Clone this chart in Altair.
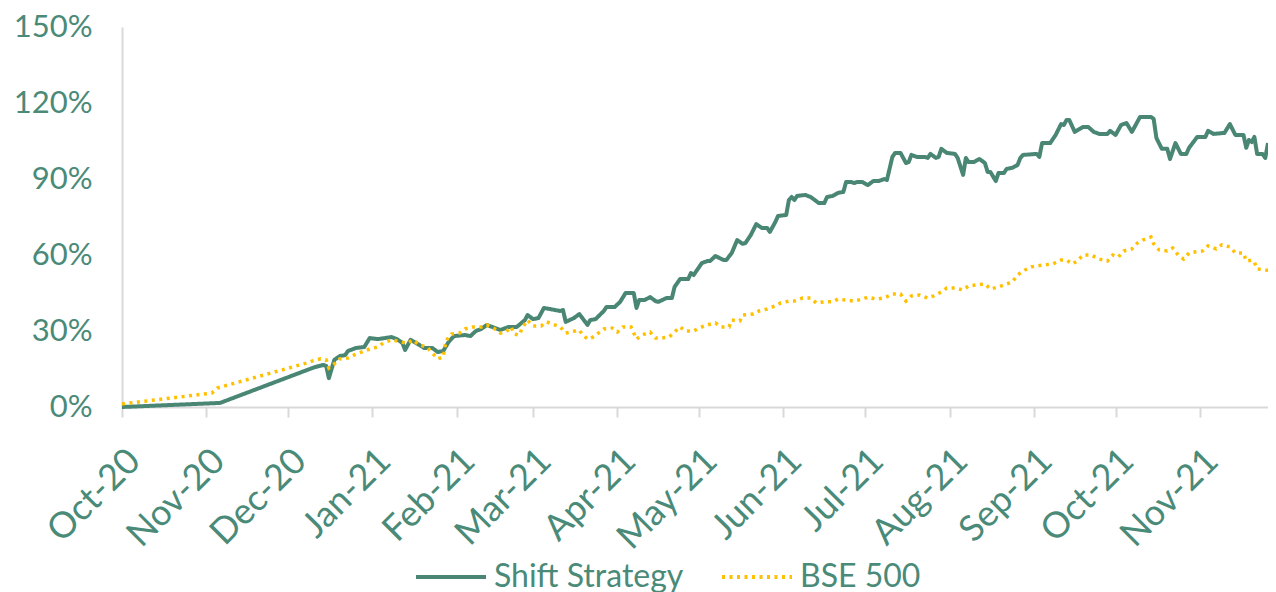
import altair as alt
import pandas as pd

series_names = ["Shift Strategy", "BSE 500"]
series_colors = ["#4a8674", "#ffc000"]
y_ticks = [0, 30, 60, 90, 120, 150]

shift_dates = [
    "2020-10-01", "2020-11-06", "2020-12-07", "2020-12-09", "2020-12-11", "2020-12-14", "2020-12-15",
    "2020-12-16", "2020-12-18", "2020-12-20", "2020-12-22", "2020-12-23", "2020-12-26", "2020-12-29",
    "2020-12-31", "2021-01-03", "2021-01-08", "2021-01-10", "2021-01-12", "2021-01-13", "2021-01-15",
    "2021-01-17", "2021-01-20", "2021-01-23", "2021-01-25", "2021-01-27", "2021-01-29", "2021-01-31",
    "2021-02-04", "2021-02-06", "2021-02-08", "2021-02-10", "2021-02-12", "2021-02-14", "2021-02-17",
    "2021-02-20", "2021-02-23", "2021-02-26", "2021-02-27", "2021-03-01", "2021-03-03", "2021-03-05",
    "2021-03-09", "2021-03-11", "2021-03-12", "2021-03-13", "2021-03-16", "2021-03-18", "2021-03-21",
    "2021-03-22", "2021-03-24", "2021-03-27", "2021-03-28", "2021-03-31", "2021-04-02", "2021-04-04",
    "2021-04-07", "2021-04-08", "2021-04-09", "2021-04-11", "2021-04-13", "2021-04-15", "2021-04-16",
    "2021-04-19", "2021-04-21", "2021-04-22", "2021-04-24", "2021-04-27", "2021-04-28", "2021-04-29",
    "2021-05-02", "2021-05-04", "2021-05-05", "2021-05-07", "2021-05-10", "2021-05-11", "2021-05-13",
    "2021-05-15", "2021-05-17", "2021-05-18", "2021-05-20", "2021-05-22", "2021-05-24", "2021-05-26",
    "2021-05-27", "2021-05-29", "2021-05-30", "2021-06-02", "2021-06-03", "2021-06-04", "2021-06-05",
    "2021-06-06", "2021-06-09", "2021-06-11", "2021-06-14", "2021-06-16", "2021-06-17", "2021-06-19",
    "2021-06-21", "2021-06-23", "2021-06-24", "2021-06-26", "2021-06-27", "2021-06-28", "2021-06-30",
    "2021-07-02", "2021-07-04", "2021-07-06", "2021-07-08", "2021-07-09", "2021-07-11", "2021-07-12",
    "2021-07-14", "2021-07-16", "2021-07-17", "2021-07-18", "2021-07-20", "2021-07-23", "2021-07-24",
    "2021-07-25", "2021-07-27", "2021-07-28", "2021-07-29", "2021-07-31", "2021-08-03", "2021-08-04",
    "2021-08-06", "2021-08-07", "2021-08-08", "2021-08-10", "2021-08-12", "2021-08-14", "2021-08-15",
    "2021-08-16", "2021-08-18", "2021-08-19", "2021-08-21", "2021-08-22", "2021-08-24", "2021-08-26",
    "2021-08-27", "2021-08-28", "2021-09-02", "2021-09-03", "2021-09-04", "2021-09-07", "2021-09-09",
    "2021-09-11", "2021-09-12", "2021-09-13", "2021-09-14", "2021-09-16", "2021-09-19", "2021-09-21",
    "2021-09-23", "2021-09-25", "2021-09-28", "2021-09-29", "2021-10-01", "2021-10-03", "2021-10-05",
    "2021-10-07", "2021-10-10", "2021-10-14", "2021-10-15", "2021-10-16", "2021-10-18", "2021-10-20",
    "2021-10-21", "2021-10-23", "2021-10-25", "2021-10-27", "2021-10-28", "2021-10-31", "2021-11-03",
    "2021-11-04", "2021-11-06", "2021-11-10", "2021-11-12", "2021-11-14", "2021-11-17", "2021-11-18",
    "2021-11-19", "2021-11-20", "2021-11-21", "2021-11-22", "2021-11-24", "2021-11-25", "2021-11-26",
]
shift_values = [
    0.0, 1.6, 14.2, 15.0, 15.8, 16.6, 16.2,
    11.4, 18.6, 20.1, 20.5, 22.1, 23.3, 23.7,
    27.2, 26.8, 27.6, 26.8, 25.3, 22.5, 26.5,
    25.3, 23.3, 23.3, 21.7, 22.1, 25.7, 28.0,
    28.4, 28.0, 30.0, 30.8, 32.4, 31.6, 30.4,
    31.6, 31.6, 34.3, 36.3, 34.7, 35.1, 39.1,
    38.3, 37.9, 38.3, 33.6, 35.1, 36.7, 32.4,
    34.3, 34.7, 37.9, 39.5, 39.5, 41.5, 45.0,
    45.0, 39.1, 42.2, 42.2, 43.4, 41.8, 41.5,
    43.0, 43.0, 47.4, 50.5, 50.5, 52.9, 52.1,
    56.8, 57.6, 57.6, 59.6, 58.0, 58.0, 60.8,
    65.9, 64.4, 64.7, 67.9, 72.2, 70.7, 70.7,
    69.1, 73.0, 75.4, 75.8, 81.7, 82.9, 81.7,
    83.3, 83.7, 82.9, 80.5, 80.5, 82.9, 83.3,
    84.5, 84.9, 88.8, 88.8, 88.4, 88.8, 88.8,
    87.6, 89.2, 89.2, 90.0, 89.6, 98.7, 100.3,
    100.3, 96.3, 96.7, 99.5, 98.7, 98.7, 98.3,
    99.9, 98.3, 98.7, 101.9, 100.3, 99.9, 98.3,
    91.6, 98.3, 96.7, 96.7, 97.9, 96.3, 92.8,
    92.8, 89.2, 92.4, 92.4, 94.0, 94.4, 95.5,
    98.3, 99.5, 99.9, 98.7, 104.2, 104.2, 107.4,
    111.7, 111.3, 113.3, 113.3, 108.6, 110.5, 110.5,
    108.6, 107.8, 107.8, 109.0, 107.4, 111.3, 112.1,
    108.6, 114.5, 114.5, 113.7, 106.2, 101.9, 101.9,
    97.9, 104.2, 99.9, 99.9, 102.3, 106.6, 106.6,
    109.0, 107.8, 108.2, 111.7, 107.4, 107.4, 102.3,
    105.4, 104.6, 106.6, 99.9, 99.9, 98.3, 104.2,
]

bse_dates = [
    "2020-10-01", "2020-11-03", "2020-11-05", "2020-12-08", "2020-12-10", "2020-12-13", "2020-12-15",
    "2020-12-16", "2020-12-18", "2020-12-20", "2020-12-23", "2020-12-26", "2020-12-28", "2020-12-31",
    "2021-01-03", "2021-01-05", "2021-01-08", "2021-01-10", "2021-01-13", "2021-01-14", "2021-01-16",
    "2021-01-18", "2021-01-21", "2021-01-23", "2021-01-25", "2021-01-27", "2021-01-28", "2021-01-30",
    "2021-02-02", "2021-02-04", "2021-02-07", "2021-02-10", "2021-02-12", "2021-02-15", "2021-02-17",
    "2021-02-19", "2021-02-21", "2021-02-22", "2021-02-24", "2021-02-25", "2021-02-27", "2021-03-01",
    "2021-03-04", "2021-03-06", "2021-03-09", "2021-03-11", "2021-03-13", "2021-03-15", "2021-03-18",
    "2021-03-19", "2021-03-21", "2021-03-23", "2021-03-26", "2021-03-27", "2021-03-30", "2021-04-01",
    "2021-04-03", "2021-04-06", "2021-04-07", "2021-04-08", "2021-04-10", "2021-04-13", "2021-04-15",
    "2021-04-17", "2021-04-20", "2021-04-22", "2021-04-24", "2021-04-26", "2021-04-29", "2021-05-01",
    "2021-05-04", "2021-05-07", "2021-05-09", "2021-05-12", "2021-05-13", "2021-05-16", "2021-05-17",
    "2021-05-21", "2021-05-23", "2021-05-26", "2021-05-29", "2021-05-31", "2021-06-03", "2021-06-05",
    "2021-06-08", "2021-06-11", "2021-06-13", "2021-06-16", "2021-06-19", "2021-06-21", "2021-06-24",
    "2021-06-27", "2021-06-30", "2021-07-02", "2021-07-05", "2021-07-08", "2021-07-11", "2021-07-14",
    "2021-07-16", "2021-07-18", "2021-07-21", "2021-07-24", "2021-07-26", "2021-07-29", "2021-07-31",
    "2021-08-03", "2021-08-06", "2021-08-08", "2021-08-11", "2021-08-14", "2021-08-16", "2021-08-19",
    "2021-08-22", "2021-08-24", "2021-08-26", "2021-08-28", "2021-08-31", "2021-09-02", "2021-09-05",
    "2021-09-08", "2021-09-11", "2021-09-13", "2021-09-15", "2021-09-17", "2021-09-19", "2021-09-22",
    "2021-09-25", "2021-09-28", "2021-09-30", "2021-10-02", "2021-10-04", "2021-10-07", "2021-10-09",
    "2021-10-11", "2021-10-14", "2021-10-15", "2021-10-17", "2021-10-20", "2021-10-22", "2021-10-24",
    "2021-10-26", "2021-10-28", "2021-10-30", "2021-11-02", "2021-11-04", "2021-11-07", "2021-11-09",
    "2021-11-12", "2021-11-14", "2021-11-17", "2021-11-18", "2021-11-20", "2021-11-21", "2021-11-22",
    "2021-11-25", "2021-11-26",
]
bse_values = [
    1.2, 5.5, 7.5, 17.4, 18.2, 19.0, 18.6,
    15.4, 17.0, 19.0, 19.3, 20.9, 21.7, 22.9,
    23.7, 25.3, 26.5, 26.1, 25.3, 25.3, 26.5,
    24.5, 23.7, 21.3, 19.0, 19.7, 26.1, 28.8,
    29.2, 30.8, 31.6, 31.6, 32.4, 30.8, 29.2,
    29.6, 31.6, 28.8, 28.4, 31.2, 34.3, 32.0,
    32.0, 33.6, 32.4, 31.6, 29.2, 29.6, 30.4,
    28.8, 26.8, 27.6, 30.0, 30.8, 31.2, 29.6,
    31.6, 31.6, 29.2, 26.8, 28.4, 29.6, 27.2,
    27.2, 27.6, 29.6, 31.6, 30.0, 30.0, 31.2,
    32.4, 33.2, 31.6, 31.6, 34.3, 34.0, 36.3,
    36.7, 37.9, 38.7, 39.9, 41.1, 41.8, 41.8,
    43.0, 43.0, 41.1, 41.5, 41.5, 42.6, 42.2,
    41.8, 42.6, 43.4, 42.6, 43.0, 44.6, 44.6,
    41.8, 43.8, 44.2, 43.0, 43.8, 45.4, 47.0,
    47.0, 46.2, 47.8, 48.2, 48.6, 46.6, 47.4,
    48.6, 49.3, 52.1, 53.7, 55.3, 55.7, 56.1,
    56.5, 58.0, 58.0, 56.5, 57.6, 60.0, 60.0,
    58.4, 57.6, 60.0, 59.2, 61.6, 62.4, 64.7,
    65.9, 67.1, 64.4, 62.0, 61.6, 62.8, 60.0,
    58.4, 60.8, 61.2, 61.6, 63.6, 62.4, 64.0,
    63.2, 60.8, 60.8, 57.6, 58.0, 57.2, 54.5,
    54.1, 54.0,
]

df = pd.concat([
    pd.DataFrame({"date": shift_dates, "value": shift_values, "series": series_names[0]}),
    pd.DataFrame({"date": bse_dates, "value": bse_values, "series": series_names[1]}),
], ignore_index=True)

TEXT = "#4a8a78"
GRAY = "#d9d9d9"
FONT = "Lato"

legend = alt.Legend(
    title=None, orient="none", legendX=292, legendY=513, direction="horizontal",
    symbolType="stroke", symbolSize=4900, symbolStrokeWidth=4,
    labelFontSize=32, labelFont=FONT, labelColor=TEXT, labelLimit=600,
    labelOffset=6, columnPadding=30, padding=0,
)

color = alt.Color("series:N", scale=alt.Scale(domain=series_names, range=series_colors), legend=legend)
dash = alt.StrokeDash("series:N", scale=alt.Scale(domain=series_names, range=[[1, 0], [3, 4.5]]), legend=legend)

x = alt.X(
    "date:T",
    scale=alt.Scale(type="utc", nice=False),
    axis=alt.Axis(
        title=None, format="%b-%y", tickCount={"interval": "month", "step": 1},
        labelAngle=-45, labelAlign="right", labelBaseline="top", labelPadding=26,
        labelFontSize=36, labelFont=FONT, labelColor=TEXT, labelOverlap=False, labelFlush=False,
        tickSize=10, tickColor=GRAY, tickWidth=2, domainColor=GRAY, domainWidth=2, grid=False,
    ),
)
y = alt.Y(
    "value:Q",
    scale=alt.Scale(domain=[0, 150], nice=False),
    axis=alt.Axis(
        title=None, values=y_ticks, labelExpr="datum.value + '%'",
        ticks=False, tickSize=0, labelPadding=30,
        labelFontSize=31, labelFont=FONT, labelColor=TEXT,
        domainColor=GRAY, domainWidth=2, grid=False,
    ),
)

base = alt.Chart(df).encode(x=x, y=y, color=color, strokeDash=dash)
green = base.transform_filter(alt.datum.series == series_names[0]).mark_line(strokeWidth=4, strokeJoin="round")
yellow = base.transform_filter(alt.datum.series == series_names[1]).mark_line(strokeWidth=3.5)

chart = (
    alt.layer(green, yellow)
    .properties(
        width=1146, height=380,
        autosize=alt.AutoSizeParams(type="none"),
        padding={"left": 114, "top": 19, "right": 0, "bottom": 185},
    )
    .configure_view(stroke=None)
)

chart.save("out.html", embed_options={"renderer": "svg", "actions": False})
